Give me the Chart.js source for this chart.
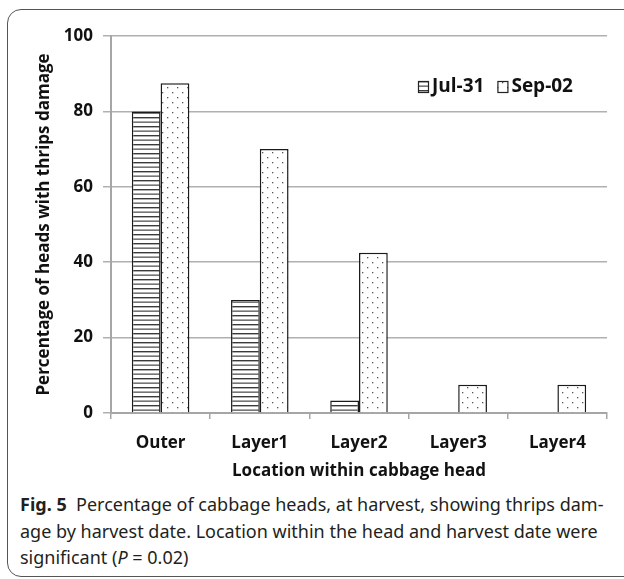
<!DOCTYPE html>
<html>
<head>
<meta charset="utf-8">
<script src="https://cdn.jsdelivr.net/npm/chart.js@4.4.0/dist/chart.umd.min.js"></script>
<style>
  html, body { margin:0; padding:0; background:#fff; width:624px; height:579px; overflow:hidden; }
  #frame { position:absolute; left:7px; top:9px; width:700px; height:566px; border:1.5px solid #555; border-radius:14px; }
  #wrap { position:absolute; left:0; top:0; width:624px; height:490px; }
  #caption { position:absolute; left:20px; top:491px; font-family:"Noto Sans", "Open Sans", sans-serif; font-size:18px; line-height:26.5px; color:#231f20; white-space:nowrap; }
  #caption b { font-weight:700; }
</style>
</head>
<body>
<div id="frame"></div>
<div id="wrap"><canvas id="c" width="624" height="490"></canvas></div>
<div id="caption"><b>Fig. 5</b>&nbsp; Percentage of cabbage heads, at harvest, showing thrips dam-<br>age by harvest date. Location within the head and harvest date were<br>significant (<i>P</i>&nbsp;=&nbsp;0.02)</div>
<script>
const categories = ["Outer", "Layer1", "Layer2", "Layer3", "Layer4"];
const seriesNames = ["Jul-31", "Sep-02"];
const jul31 = [80, 30, 3.3, 0, 0];
const sep02 = [87.5, 70, 42.5, 7.5, 7.5];
const yTicks = [0, 20, 40, 60, 80, 100];

function hLinesPattern() {
  const p = document.createElement('canvas');
  p.width = 4; p.height = 9;
  const g = p.getContext('2d');
  g.fillStyle = '#fff'; g.fillRect(0,0,4,9);
  g.fillStyle = '#3a3a3a'; g.fillRect(0,0,4,1.4);
  g.fillStyle = '#555'; g.fillRect(0,4.5,4,1.3);
  return g.createPattern(p, 'repeat');
}
function dotsPattern() {
  const p = document.createElement('canvas');
  p.width = 10; p.height = 10;
  const g = p.getContext('2d');
  g.fillStyle = '#fff'; g.fillRect(0,0,10,10);
  g.fillStyle = '#555';
  g.fillRect(2,2,1.3,1.3);
  g.fillRect(7,7,1.3,1.3);
  return g.createPattern(p, 'repeat');
}
const patJul = hLinesPattern();
const patSep = dotsPattern();
const FONT = '"Open Sans", sans-serif';
const FSIZE = 17;

const legendPlugin = {
  id: 'customLegend',
  afterDraw(chart) {
    const ctx = chart.ctx;
    const ca = chart.chartArea;
    const items = [[seriesNames[0], patJul], [seriesNames[1], patSep]];
    let x = ca.left + 307;
    const y = ca.top + 51;
    ctx.save();
    ctx.font = 'bold 19px ' + FONT;
    ctx.textBaseline = 'middle';
    items.forEach(([label, pat]) => {
      ctx.fillStyle = pat;
      ctx.fillRect(x, y - 6, 11, 12);
      ctx.strokeStyle = '#222'; ctx.lineWidth = 1.2;
      ctx.strokeRect(x + 0.5, y - 5.5, 10, 11);
      ctx.fillStyle = '#111';
      ctx.fillText(label, x + 14, y);
      x += 14 + ctx.measureText(label).width + 13;
    });
    ctx.restore();
  }
};

new Chart(document.getElementById('c'), {
  type: 'bar',
  data: {
    labels: categories,
    datasets: [
      { label: seriesNames[0], data: jul31, backgroundColor: patJul, borderColor: '#1a1a1a',
        borderWidth: (c) => (c.raw === 0 ? 0 : 1.5), categoryPercentage: 0.58, barPercentage: 1.0 },
      { label: seriesNames[1], data: sep02, backgroundColor: patSep, borderColor: '#1a1a1a',
        borderWidth: (c) => (c.raw === 0 ? 0 : 1.5), categoryPercentage: 0.58, barPercentage: 1.0 }
    ]
  },
  options: {
    responsive: false,
    animation: false,
    devicePixelRatio: 1,
    layout: { padding: { top: 36, right: 17, left: 0, bottom: 0 } },
    plugins: { legend: { display: false }, tooltip: { enabled: false } },
    scales: {
      x: {
        afterFit: (s) => { s.height = 77; },
        grid: { display: true, drawOnChartArea: false, drawTicks: true, tickLength: 6, color: '#a6a6a6', lineWidth: 1.5, offset: true },
        border: { display: true, color: '#a6a6a6', width: 2 },
        ticks: { color: '#111', font: { family: FONT, size: FSIZE, weight: 'bold' }, padding: 14 },
        title: { display: true, text: 'Location within cabbage head', color: '#111',
                 font: { family: FONT, size: FSIZE, weight: 'bold' }, padding: { top: 0, bottom: 9 } }
      },
      y: {
        min: 0, max: 100,
        afterFit: (s) => { s.width = 111; },
        afterBuildTicks: (s) => { s.ticks = yTicks.map(v => ({ value: v })); },
        grid: { color: '#b0b0b0', lineWidth: 1.5, tickLength: 8 },
        border: { display: true, color: '#a6a6a6', width: 2 },
        ticks: { color: '#111', font: { family: FONT, size: FSIZE, weight: 'bold' }, padding: 10 },
        title: { display: true, text: 'Percentage of heads with thrips damage', color: '#111',
                 font: { family: FONT, size: FSIZE, weight: 'bold' }, padding: { top: 34, bottom: 0 } }
      }
    }
  },
  plugins: [legendPlugin]
});
</script>
</body>
</html>
